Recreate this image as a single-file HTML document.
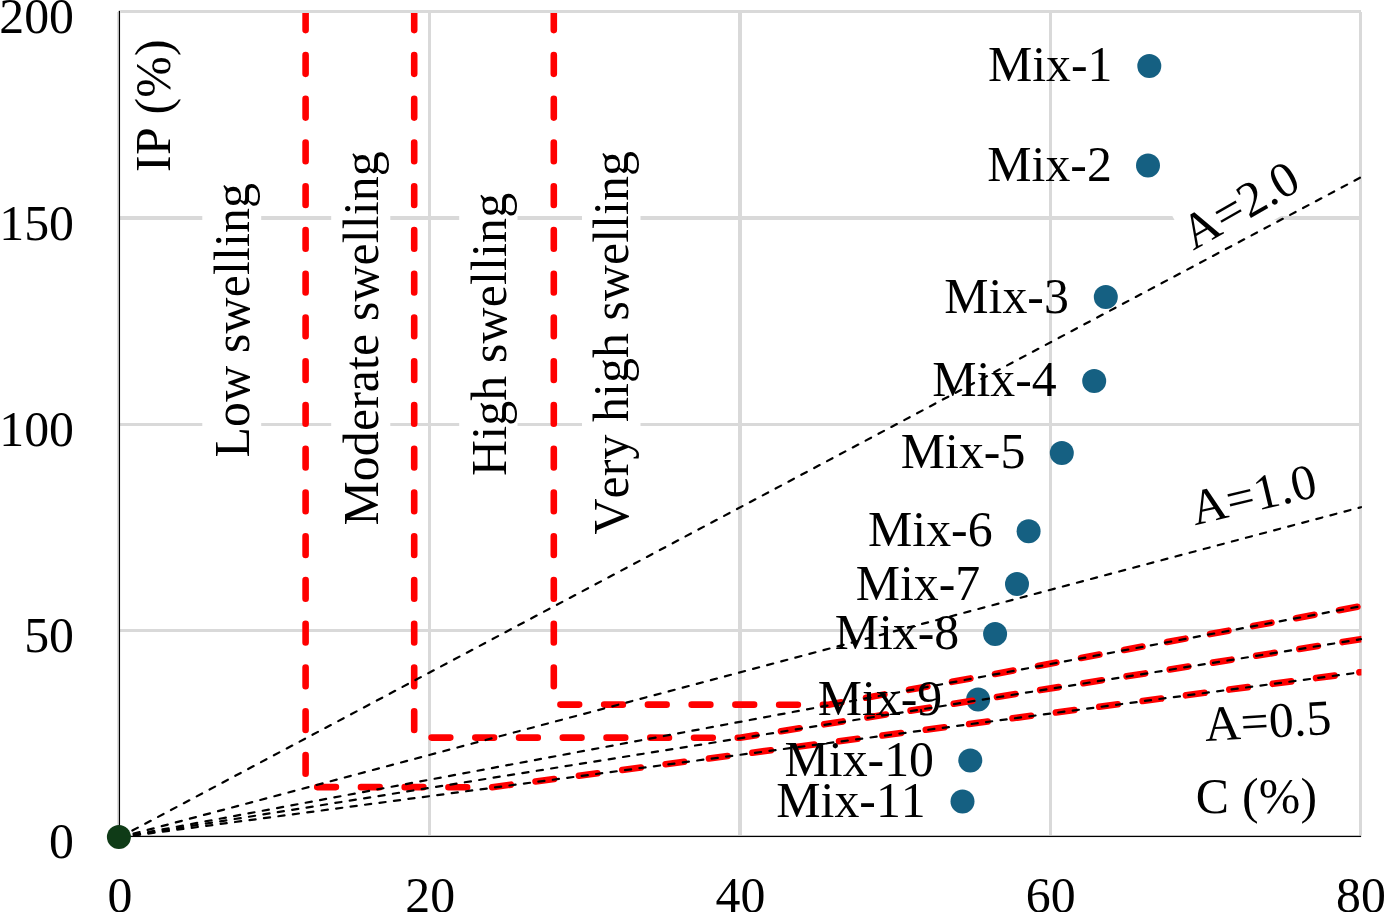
<!DOCTYPE html>
<html lang="en"><head><meta charset="utf-8"><title>Activity chart</title>
<style>html,body{margin:0;padding:0;background:#fff;}body{width:1384px;height:912px;overflow:hidden;}svg{display:block;}text{font-family:"Liberation Serif","Times New Roman",serif;font-size:49.8px;fill:#000;font-kerning:none;}</style></head><body>
<svg width="1384" height="912" viewBox="0 0 1384 912">
<rect x="0" y="0" width="1384" height="912" fill="#ffffff"/>
<defs><clipPath id="plot"><rect x="115.5" y="11.5" width="1245.9" height="829.0"/></clipPath></defs>
<g fill="#d9d9d9">
<rect x="119" y="216" width="1242" height="4"/>
<rect x="119" y="423" width="1242" height="3"/>
<rect x="119" y="629" width="1242" height="3"/>
<rect x="428" y="11" width="3" height="824"/>
<rect x="738" y="11" width="4" height="824"/>
<rect x="1049" y="11" width="3" height="824"/>
<rect x="1359" y="12" width="3" height="823.5"/>
<rect x="117" y="12" width="1.2" height="824" fill="#dedede"/>
</g>
<g fill="#ffffff">
<rect x="202.3" y="170.0" width="58.9" height="300.0"/>
<rect x="331.2" y="138.0" width="59.1" height="400.0"/>
<rect x="459.2" y="180.0" width="58.3" height="308.0"/>
<rect x="582.0" y="138.0" width="58.5" height="410.0"/>
<rect x="-1" y="-46.9" width="126.3" height="60.1" transform="translate(1193.2 250.7) rotate(-29.60)"/>
<rect x="-1" y="-46.9" width="126.3" height="60.1" transform="translate(1194.9 525.3) rotate(-13.30)"/>
<rect x="-1" y="-46.9" width="126.3" height="60.1" transform="translate(1205.5 741.0) rotate(-3.20)"/>
</g>
<g fill="#000">
<rect x="118.75" y="10.8" width="1.3" height="826.3"/>
<rect x="118.75" y="835.75" width="1242.35" height="1.3"/>
</g>
<g fill="#156082">
<circle cx="1149.3" cy="65.9" r="12"/>
<circle cx="1148.0" cy="165.5" r="12"/>
<circle cx="1105.8" cy="296.9" r="12"/>
<circle cx="1094.2" cy="380.9" r="12"/>
<circle cx="1061.8" cy="453.1" r="12"/>
<circle cx="1028.6" cy="531.2" r="12"/>
<circle cx="1017.0" cy="583.9" r="12"/>
<circle cx="995.1" cy="634.0" r="12"/>
<circle cx="978.1" cy="699.6" r="12"/>
<circle cx="970.3" cy="760.4" r="12"/>
<circle cx="962.5" cy="801.6" r="12"/>
</g>
<g clip-path="url(#plot)"><g stroke="#ff0000" stroke-width="6.6" fill="none" stroke-linecap="round" stroke-linejoin="round" stroke-dasharray="18.7 25.04">
<polyline points="305.6,11.4 305.6,787.1 491.8,787.2 1360.5,672.2"/>
<polyline points="414.2,11.4 414.2,737.6 740.0,737.7 1360.5,639.2"/>
<polyline points="553.8,11.4 553.8,704.6 828.6,704.7 1360.5,606.2"/>
</g></g>
<rect x="120.2" y="10" width="1240.8" height="3" fill="#d9d9d9"/>
<g stroke="#000" stroke-width="2.2" fill="none" stroke-linecap="round" stroke-dasharray="6.2 8.37">
<line x1="119.5" y1="837.4" x2="1361.0" y2="177.2"/>
<line x1="119.5" y1="837.4" x2="1361.0" y2="507.2"/>
<line x1="119.5" y1="837.4" x2="1361.0" y2="606.2"/>
<line x1="119.5" y1="837.4" x2="1361.0" y2="639.2"/>
<line x1="119.5" y1="837.4" x2="1361.0" y2="672.2"/>
</g>
<circle cx="118.9" cy="837" r="12" fill="#0f3b17"/>
<g text-anchor="end" style="font-size:49.5px">
<text x="74" y="858.4">0</text>
<text x="74" y="652.1">50</text>
<text x="74" y="445.9">100</text>
<text x="74" y="239.7">150</text>
<text x="74" y="33.4">200</text>
</g>
<g text-anchor="middle" style="font-size:49.5px">
<text x="120.0" y="912.3">0</text>
<text x="430.2" y="912.3">20</text>
<text x="740.5" y="912.3">40</text>
<text x="1050.7" y="912.3">60</text>
<text x="1361.0" y="912.3">80</text>
</g>
<text transform="translate(170.00 171.90) rotate(-90)" letter-spacing="0.200">IP (%)</text>
<text transform="translate(249.10 457.50) rotate(-90)" letter-spacing="0.182">Low swelling</text>
<text transform="translate(378.20 525.60) rotate(-90)" letter-spacing="0.138">Moderate swelling</text>
<text transform="translate(506.00 475.90) rotate(-90)" letter-spacing="0.183">High swelling</text>
<text transform="translate(627.70 534.50) rotate(-90)" letter-spacing="0.094">Very high swelling</text>
<text transform="translate(1193.20 250.70) rotate(-29.60)" letter-spacing="0.000">A=2.0</text>
<text transform="translate(1194.90 525.30) rotate(-13.30)" letter-spacing="0.350">A=1.0</text>
<text transform="translate(1205.50 741.00) rotate(-3.20)" letter-spacing="0.100">A=0.5</text>
<text x="987.95" y="80.90" letter-spacing="0.000">Mix-1</text>
<text x="987.35" y="180.90" letter-spacing="0.000">Mix-2</text>
<text x="944.30" y="312.70" letter-spacing="0.000">Mix-3</text>
<text x="932.25" y="395.50" letter-spacing="0.000">Mix-4</text>
<text x="900.85" y="467.70" letter-spacing="0.000">Mix-5</text>
<text x="868.05" y="545.80" letter-spacing="0.000">Mix-6</text>
<text x="855.65" y="599.50" letter-spacing="0.000">Mix-7</text>
<text x="834.75" y="649.40" letter-spacing="0.000">Mix-8</text>
<text x="817.65" y="714.80" letter-spacing="0.000">Mix-9</text>
<text x="784.60" y="775.60" letter-spacing="0.000">Mix-10</text>
<text x="776.30" y="816.80" letter-spacing="0.000">Mix-11</text>
<text x="1195.85" y="813.00" letter-spacing="0.220">C (%)</text>
</svg></body></html>
